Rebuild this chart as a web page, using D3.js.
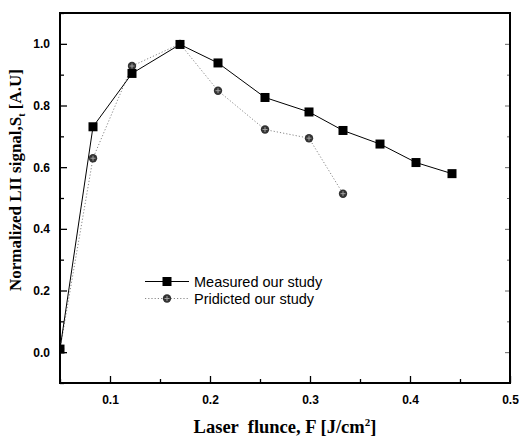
<!DOCTYPE html>
<html>
<head>
<meta charset="utf-8">
<script src="https://cdn.jsdelivr.net/npm/d3@7"></script>
<style>
  html, body { margin: 0; padding: 0; background: #fff; }
  svg { display: block; }
  .title { white-space: pre; }
</style>
</head>
<body>
<svg id="chart" width="519" height="437"></svg>
<script>
// Laser fluence (J/cm^2) and normalized LII signal
const measuredF = [0.05, 0.083, 0.122, 0.170, 0.208, 0.255, 0.299, 0.333, 0.370, 0.406, 0.442];
const measuredS = [0.01, 0.731, 0.904, 0.998, 0.938, 0.826, 0.779, 0.719, 0.675, 0.615, 0.579];
const predictedF = [0.05, 0.083, 0.122, 0.170, 0.208, 0.255, 0.299, 0.333];
const predictedS = [0.01, 0.629, 0.928, 1.000, 0.848, 0.722, 0.694, 0.514];
const xTicks = [0.1, 0.2, 0.3, 0.4, 0.5];
const yTicks = [0.0, 0.2, 0.4, 0.6, 0.8, 1.0];
const seriesNames = ["Measured our study", "Pridicted our study"];

const svg = d3.select("#chart");
const m = { left: 60, top: 13, right: 510, bottom: 383 };

const x = d3.scaleLinear().domain([0.05, 0.5]).range([m.left, m.right]);
const y = d3.scaleLinear().domain([-0.1, 1.1]).range([m.bottom, m.top]);

const tickFont = "Liberation Sans, Arial, sans-serif";
const labelFont = "Liberation Serif, Times New Roman, serif";

// clip region for the data
svg.append("defs").append("clipPath").attr("id", "plotclip")
  .append("rect").attr("x", m.left).attr("y", m.top)
  .attr("width", m.right - m.left).attr("height", m.bottom - m.top);

// Axes: major ticks inward with labels, minor ticks between
const xMinor = d3.range(0.05, 0.5001, 0.05).map(v => +v.toFixed(2)).filter(v => !xTicks.some(t => Math.abs(t - v) < 1e-9));
const yMinor = d3.range(-0.1, 1.1001, 0.1).map(v => +v.toFixed(2)).filter(v => !yTicks.some(t => Math.abs(t - v) < 1e-9));

function styleAxis(g) {
  g.select(".domain").remove();
  g.selectAll(".tick line").attr("stroke", "#000").attr("stroke-width", 1.3);
  g.selectAll(".tick text").attr("font-family", tickFont).attr("font-weight", "bold")
    .attr("font-size", 12).attr("fill", "#000");
}

// bottom
svg.append("g").attr("transform", `translate(0,${m.bottom})`)
  .call(d3.axisBottom(x).tickValues(xTicks).tickFormat(d3.format(".1f")).tickSizeInner(-7).tickSizeOuter(0).tickPadding(12))
  .call(styleAxis);
svg.append("g").attr("transform", `translate(0,${m.bottom})`)
  .call(d3.axisBottom(x).tickValues(xMinor).tickFormat("").tickSizeInner(-4).tickSizeOuter(0))
  .call(styleAxis);
// left
svg.append("g").attr("transform", `translate(${m.left},0)`)
  .call(d3.axisLeft(y).tickValues(yTicks).tickFormat(d3.format(".1f")).tickSizeInner(-7).tickSizeOuter(0).tickPadding(10))
  .call(styleAxis);
svg.append("g").attr("transform", `translate(${m.left},0)`)
  .call(d3.axisLeft(y).tickValues(yMinor).tickFormat("").tickSizeInner(-4).tickSizeOuter(0))
  .call(styleAxis);
// right mirror ticks
svg.append("g").attr("transform", `translate(${m.right},0)`)
  .call(d3.axisRight(y).tickValues(yTicks).tickFormat("").tickSizeInner(-5).tickSizeOuter(0))
  .call(styleAxis).selectAll(".tick line").attr("stroke", "#666").attr("stroke-width", 1);
svg.append("g").attr("transform", `translate(${m.right},0)`)
  .call(d3.axisRight(y).tickValues(yMinor).tickFormat("").tickSizeInner(-3).tickSizeOuter(0))
  .call(styleAxis).selectAll(".tick line").attr("stroke", "#666").attr("stroke-width", 1);

// frame
svg.append("rect").attr("x", m.left).attr("y", m.top)
  .attr("width", m.right - m.left).attr("height", m.bottom - m.top)
  .attr("fill", "none").attr("stroke", "#000").attr("stroke-width", 2);

const plot = svg.append("g").attr("clip-path", "url(#plotclip)");
const line = d3.line().x(d => x(d[0])).y(d => y(d[1]));

const measured = measuredF.map((f, i) => [f, measuredS[i]]);
const predicted = predictedF.map((f, i) => [f, predictedS[i]]);

// predicted: light dotted line with hatched circles
plot.append("path").datum(predicted).attr("d", line)
  .attr("fill", "none").attr("stroke", "#888").attr("stroke-width", 1)
  .attr("stroke-dasharray", "1.2,2");
// measured: solid line with filled squares
plot.append("path").datum(measured).attr("d", line)
  .attr("fill", "none").attr("stroke", "#000").attr("stroke-width", 1);

function drawCircle(g, cx, cy) {
  g.append("circle").attr("cx", cx).attr("cy", cy).attr("r", 4.2).attr("fill", "#333");
  g.append("path").attr("d", `M${cx - 2.5},${cy}H${cx + 2.5}M${cx},${cy - 2.5}V${cy + 2.5}`)
    .attr("stroke", "#aaa").attr("stroke-width", 0.9);
}
function drawSquare(g, cx, cy) {
  g.append("rect").attr("x", cx - 4.5).attr("y", cy - 4.5).attr("width", 9).attr("height", 9).attr("fill", "#000");
}

predicted.forEach(d => drawCircle(plot, x(d[0]), y(d[1])));
measured.forEach(d => drawSquare(plot, x(d[0]), y(d[1])));

// legend
const lg = svg.append("g");
const lx0 = 145, lx1 = 189, lxm = 167, ly1 = 281.5, ly2 = 298.5;
lg.append("line").attr("x1", lx0).attr("x2", lx1).attr("y1", ly1).attr("y2", ly1).attr("stroke", "#000").attr("stroke-width", 1);
drawSquare(lg, lxm, ly1);
lg.append("line").attr("x1", lx0).attr("x2", lx1).attr("y1", ly2).attr("y2", ly2)
  .attr("stroke", "#888").attr("stroke-width", 1).attr("stroke-dasharray", "1.2,2");
drawCircle(lg, lxm, ly2);
lg.selectAll("text.leg").data(seriesNames).join("text")
  .attr("x", 194).attr("y", (d, i) => [ly1, ly2][i] + 5)
  .attr("font-family", tickFont).attr("font-size", 14.5).attr("fill", "#000")
  .text(d => d);

// axis titles
const xt = svg.append("text").attr("class", "title").attr("x", 285).attr("y", 433).attr("text-anchor", "middle")
  .attr("font-family", labelFont).attr("font-weight", "bold").attr("font-size", 18.5).attr("fill", "#000");
xt.append("tspan").text("Laser  flunce, F [J/cm");
xt.append("tspan").attr("dy", -7).attr("font-size", 11).text("2");
xt.append("tspan").attr("dy", 7).text("]");

const yt = svg.append("text").attr("transform", "translate(21,180) rotate(-90)").attr("text-anchor", "middle")
  .attr("font-family", labelFont).attr("font-weight", "bold").attr("font-size", 17).attr("fill", "#000");
yt.append("tspan").text("Normalized LII signal,S");
yt.append("tspan").attr("dy", 4).attr("font-size", 10).text("t");
yt.append("tspan").attr("dy", -4).text(" [A.U]");
</script>
</body>
</html>
